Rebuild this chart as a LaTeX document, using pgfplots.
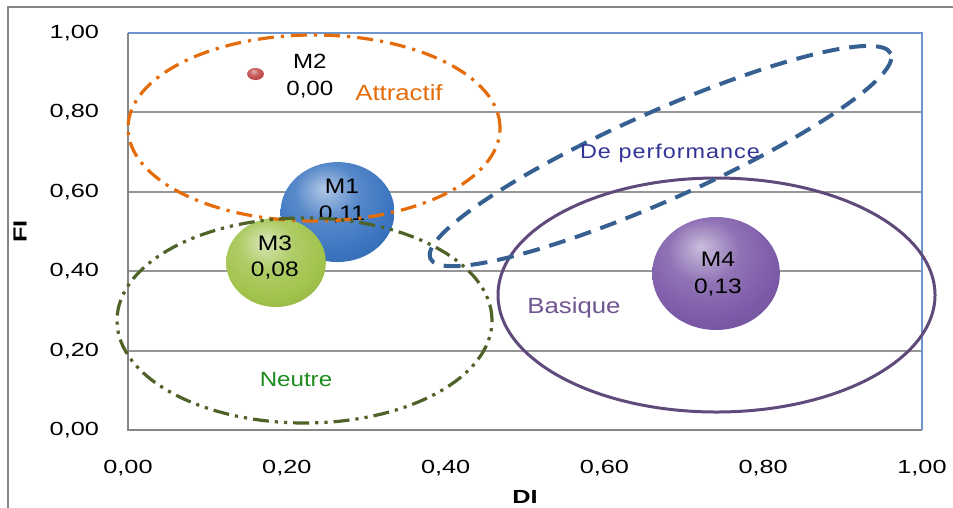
\documentclass[border=0pt]{standalone}
\usepackage{fontspec}
\setmainfont{Liberation Sans}[FakeStretch=1.17]
\newfontfamily\tickfont{Liberation Sans}[FakeStretch=1.33]
\usepackage{pgfplots}
\pgfplotsset{compat=1.18}
\definecolor{framegray}{RGB}{134,134,134}
\definecolor{gridgray}{RGB}{150,150,150}
\definecolor{spineblue}{RGB}{110,150,205}
\definecolor{m1blue}{RGB}{58,116,192}
\definecolor{m2red}{RGB}{192,70,70}
\definecolor{m3green}{RGB}{160,195,75}
\definecolor{m4purple}{RGB}{124,90,168}
\definecolor{orangec}{RGB}{228,108,10}
\definecolor{olivec}{RGB}{79,98,40}
\definecolor{neutreg}{RGB}{30,140,30}
\definecolor{basiquep}{RGB}{96,74,123}
\definecolor{basiquetxt}{RGB}{112,86,145}
\definecolor{perfblue}{RGB}{55,96,146}
\definecolor{perftxt}{RGB}{50,52,150}
\makeatletter
\pgfdeclareradialshading[tikz@ball]{ball}{\pgfqpoint{-6bp}{12bp}}{%
  color(0bp)=(tikz@ball!40!white);
  color(14bp)=(tikz@ball!85!white);
  color(28bp)=(tikz@ball);
  color(46bp)=(tikz@ball!82!black);
  color(58bp)=(tikz@ball!60!black);
  color(72bp)=(tikz@ball!50!black)}
\makeatother
\begin{document}
\begin{tikzpicture}
\useasboundingbox (-64pt,-39pt) rectangle (412.5pt,215pt);
\draw[framegray, line width=0.8pt] (-60pt,-80pt) rectangle (440pt,211.5pt);
\begin{axis}[
  scale only axis,
  width=397pt, height=198.5pt,
  xmin=0, xmax=1, ymin=0, ymax=1,
  clip=false,
  xtick={0,0.2,0.4,0.6,0.8,1},
  ytick={0,0.2,0.4,0.6,0.8,1},
  ymajorgrids,
  grid style={gridgray, line width=1pt},
  major tick length=0pt,
  axis line style={draw=none},
  tick label style={font=\tickfont\fontsize{9.5}{10}\selectfont},
  /pgf/number format/fixed,
  /pgf/number format/fixed zerofill,
  /pgf/number format/precision=2,
  /pgf/number format/use comma,
  /pgf/number format/assume math mode=true,
  xticklabel style={yshift=-11.5pt},
  yticklabel style={xshift=-11pt},
  xlabel={DI}, ylabel={FI},
  xlabel style={at={(axis description cs:0.5,-0.169)}, anchor=center, font=\tickfont\bfseries\fontsize{9.5}{10}\selectfont},
  ylabel style={at={(axis description cs:-0.136,0.5)}, anchor=center, font=\tickfont\bfseries\fontsize{9.5}{10}\selectfont},
]
% bubbles
\addplot[only marks, mark=ball, ball color=m1blue, mark size=25pt, mark options={ball color=m1blue, draw=none, draw opacity=0, xscale=1.14}] coordinates {(0.2639,0.549)};
\addplot[only marks, mark=ball, ball color=m2red, mark size=3pt, mark options={ball color=m2red, draw=none, draw opacity=0, xscale=1.4}] coordinates {(0.1606,0.8967)};
\addplot[only marks, mark=ball, ball color=m3green, mark size=22.25pt, mark options={ball color=m3green, draw=none, draw opacity=0, xscale=1.12}] coordinates {(0.1864,0.4219)};
\addplot[only marks, mark=ball, ball color=m4purple, mark size=28.25pt, mark options={ball color=m4purple, draw=none, draw opacity=0, xscale=1.13}] coordinates {(0.7406,0.3942)};
\coordinate (o) at (axis cs:0,0);
\coordinate (tl) at (axis cs:0,1);
\coordinate (tr) at (axis cs:1,1);
\coordinate (br) at (axis cs:1,0);
\coordinate (l2) at (axis cs:0.229,0.892);
\coordinate (l1) at (axis cs:0.2695,0.577);
\coordinate (l3) at (axis cs:0.185,0.434);
\coordinate (l4) at (axis cs:0.743,0.392);
\coordinate (ea) at (axis cs:0.2343,0.7607);
\coordinate (en) at (axis cs:0.2223,0.2758);
\coordinate (eb) at (axis cs:0.7412,0.340);
\coordinate (pc) at (axis cs:0.6707,0.690);
\coordinate (ta) at (axis cs:0.3413,0.851);
\coordinate (tn) at (axis cs:0.2116,0.126);
\coordinate (tb) at (axis cs:0.5617,0.307);
\coordinate (tp) at (axis cs:0.6826,0.698);
\end{axis}
% spines
\draw[spineblue, line width=0.75pt] (tl) -- (tr) -- (br);
\draw[framegray, line width=1pt] (tl) -- (o) -- (br);
% bubble labels
\node[align=center, font=\fontsize{10.3}{13.3}\selectfont] at (l2) {M2\\0,00};
\node[align=center, font=\fontsize{10.5}{13.3}\selectfont] at (l1) {M1\\0,11};
\node[align=center, font=\fontsize{10.5}{13.3}\selectfont] at (l3) {M3\\0,08};
\node[align=center, font=\fontsize{10.5}{13.3}\selectfont] at (l4) {M4\\0,13};
% ellipses
\draw[orangec, line width=1.6pt, dash pattern=on 8pt off 3.5pt on 1.6pt off 3.5pt] (ea) ellipse [x radius=93pt, y radius=46.5pt];
\draw[olivec, line width=1.6pt, dash pattern=on 8pt off 3pt on 1.6pt off 3pt on 1.6pt off 3pt] (en) ellipse [x radius=93.75pt, y radius=51.25pt];
\draw[basiquep, line width=1.5pt] (eb) ellipse [x radius=109.25pt, y radius=58.5pt];
\draw[perfblue, line width=2pt, dash pattern=on 8.5pt off 5pt, rotate around={24:(pc)}] (pc) ellipse [x radius=126pt, y radius=22pt];
% annotation texts
\node[orangec, font=\fontsize{11}{13}\selectfont] at (ta) {Attractif};
\node[neutreg, font=\fontsize{10.3}{12}\selectfont] at (tn) {Neutre};
\node[basiquetxt, font=\fontsize{11}{13}\selectfont] at (tb) {Basique};
\node[perftxt, font=\fontsize{10}{12}\selectfont\addfontfeature{LetterSpace=5}] at (tp) {De performance};
\end{tikzpicture}
\end{document}
